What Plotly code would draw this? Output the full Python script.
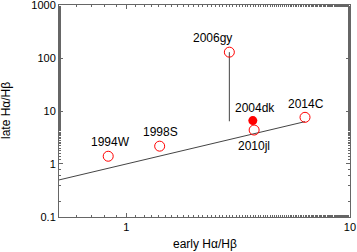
import plotly.graph_objects as go
import numpy as np

names = ["1994W", "1998S", "2006gy", "2010jl", "2014C"]
early = [0.83, 1.41, 2.89, 3.73, 6.3]
late = [1.40, 2.17, 129, 4.37, 7.6]

gy_early = [2.89, 2.89]
gy_late = [6.4, 129]

dk_name = ["2004dk"]
dk_early = [3.68]
dk_late = [6.6]

line_x = [0.5, 6.3]
line_y = [0.5, 6.3]

# label pixel offsets (layout only)
label_dx = [2, 1, -17, 0, 1]
label_dy = [14, 14, 14, -16, 13]
dk_dx = [2]
dk_dy = [13]

font = "Liberation Sans, Arial, sans-serif"
fig = go.Figure()
fig.add_trace(go.Scatter(x=line_x, y=line_y, mode="lines",
                         line=dict(color="#444", width=1), showlegend=False))
fig.add_trace(go.Scatter(x=gy_early, y=gy_late, mode="lines",
                         line=dict(color="#444", width=1), showlegend=False))
fig.add_trace(go.Scatter(x=early, y=late, mode="markers",
                         marker=dict(symbol="circle-open", size=10, color="red",
                                     line=dict(width=1, color="red")),
                         showlegend=False))
fig.add_trace(go.Scatter(x=dk_early, y=dk_late, mode="markers",
                         marker=dict(symbol="circle", size=9, color="red"),
                         showlegend=False))

for n, xv, yv, dx, dy in list(zip(names, early, late, label_dx, label_dy)) + \
        list(zip(dk_name, dk_early, dk_late, dk_dx, dk_dy)):
    fig.add_annotation(x=np.log10(xv), y=np.log10(yv), text=n, showarrow=False,
                       xanchor="center", yanchor="middle", xshift=dx, yshift=dy,
                       font=dict(size=12, color="black", family=font))

# axis titles
fig.add_annotation(xref="paper", yref="paper", x=0.5, y=0, text="early Hα/Hβ",
                   showarrow=False, xanchor="center", yanchor="middle", yshift=-27,
                   font=dict(size=12, color="black", family=font))
fig.add_annotation(xref="paper", yref="paper", x=0, y=0.5, text="late Hα/Hβ",
                   showarrow=False, xanchor="center", yanchor="middle", xshift=-53,
                   textangle=-90, font=dict(size=12, color="black", family=font))

axis_common = dict(type="log", showline=True, linecolor="#666", linewidth=1,
                   mirror="allticks", ticks="inside", ticklen=4, tickcolor="#666",
                   showgrid=False, zeroline=False, automargin=False,
                   ticklabeloverflow="allow",
                   tickfont=dict(size=11, color="black", family=font),
                   minor=dict(ticks="inside", ticklen=2, tickcolor="#666", showgrid=False))

fig.update_xaxes(range=[np.log10(0.5), 1.0005], tickvals=[1, 10], ticktext=["1", "10"],
                 **axis_common)
fig.update_yaxes(range=[-1.0005, 3.0005], tickvals=[0.1, 1, 10, 100, 1000],
                 ticktext=["0.1", "1", "10", "100", "1000"],
                 **axis_common)

fig.update_layout(width=357, height=252, margin=dict(l=59, r=7, t=5, b=35, autoexpand=False),
                  plot_bgcolor="white", paper_bgcolor="white")
fig.write_html("out.html", config={"displayModeBar": False},
               post_script="document.body.style.margin='0';")
